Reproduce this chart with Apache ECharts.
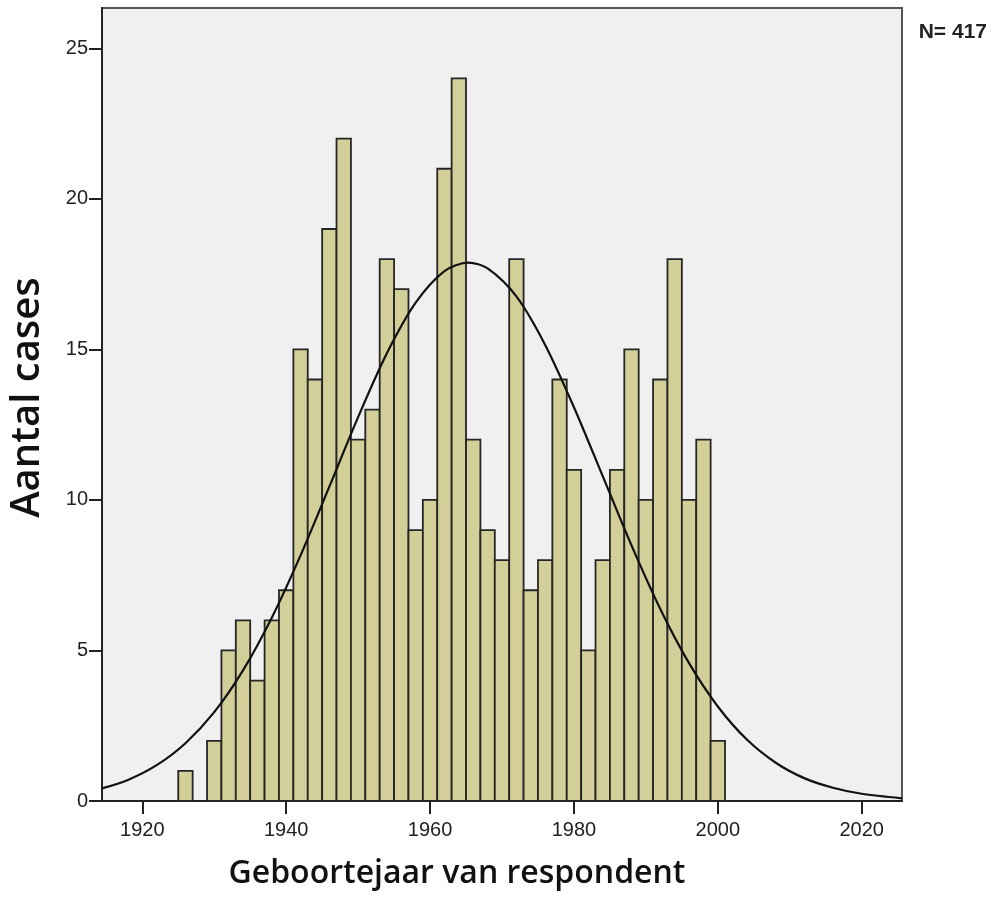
<!DOCTYPE html>
<html>
<head>
<meta charset="utf-8">
<script src="https://cdn.jsdelivr.net/npm/echarts@6/dist/echarts.min.js"></script>
<style>
  html, body { margin: 0; padding: 0; background: #fff; }
  #chart { width: 995px; height: 899px; }
</style>
</head>
<body>
<div id="chart"></div>
<script>
// histogram bins (start year, 2 year wide) and counts
const binStarts = [1925, 1929, 1931, 1933, 1935, 1937, 1939, 1941, 1943, 1945, 1947, 1949, 1951,
  1953, 1955, 1957, 1959, 1961, 1963, 1965, 1967, 1969, 1971, 1973, 1975, 1977, 1979, 1981,
  1983, 1985, 1987, 1989, 1991, 1993, 1995, 1997, 1999];
const binCounts = [1, 2, 5, 6, 4, 6, 7, 15, 14, 19, 22, 12, 13,
  18, 17, 9, 10, 21, 24, 12, 9, 8, 18, 7, 8, 14, 11, 5,
  8, 11, 15, 10, 14, 18, 10, 12, 2];
const binWidth = 2;

// normal curve
const curveYears = [1914.4, 1918, 1922, 1926, 1930, 1934, 1938, 1942, 1946, 1950, 1954, 1958, 1962,
  1965.3, 1968, 1972, 1976, 1980, 1984, 1988, 1992, 1996, 2000, 2004, 2008, 2012, 2016, 2020, 2025.6];
const curveValues = [0.42, 0.70, 1.19, 1.92, 2.95, 4.34, 6.09, 8.16, 10.44, 12.75, 14.87, 16.55, 17.60,
  17.88, 17.69, 16.76, 15.15, 13.08, 10.79, 8.49, 6.38, 4.58, 3.14, 2.05, 1.28, 0.76, 0.44, 0.24, 0.09];

const xTicks = [1920, 1940, 1960, 1980, 2000, 2020];
const yTicks = [0, 5, 10, 15, 20, 25];
const nLabel = 'N= 417';

const chart = echarts.init(document.getElementById('chart'));

chart.setOption({
  animation: false,
  title: {
    text: nLabel,
    right: 3,
    top: 17,
    textStyle: { fontFamily: 'Liberation Sans', fontSize: 21, fontWeight: 'bold', color: '#222' }
  },
  grid: {
    left: 101,
    right: 93,
    top: 8,
    bottom: 98,
    show: true,
    backgroundColor: '#f0f0f0',
    borderColor: '#555',
    borderWidth: 2
  },
  xAxis: {
    type: 'value',
    min: 1914.4,
    max: 2025.6,
    name: 'Geboortejaar van respondent',
    nameLocation: 'middle',
    nameGap: 57,
    nameTextStyle: {
      fontFamily: 'Open Sans',
      fontSize: 32,
      fontWeight: 600,
      color: '#111',
      padding: [0, 90, 0, 0]
    },
    splitLine: { show: false },
    axisLine: { show: true, lineStyle: { color: '#222', width: 2 } },
    axisTick: { show: true, length: 13, customValues: xTicks, lineStyle: { color: '#222', width: 2 } },
    axisLabel: {
      customValues: xTicks,
      formatter: v => String(v),
      margin: 19,
      fontFamily: 'Liberation Sans',
      fontSize: 20,
      color: '#222'
    }
  },
  yAxis: {
    type: 'value',
    min: 0,
    max: 26.34,
    name: 'Aantal cases',
    nameLocation: 'middle',
    nameGap: 54,
    nameTextStyle: {
      fontFamily: 'Open Sans',
      fontSize: 40,
      fontWeight: 600,
      color: '#111',
      padding: [0, 0, 0, 14]
    },
    splitLine: { show: false },
    axisLine: { show: true, lineStyle: { color: '#222', width: 2 } },
    axisTick: { show: true, length: 13, customValues: yTicks, lineStyle: { color: '#222', width: 2 } },
    axisLabel: {
      customValues: yTicks,
      margin: 14,
      fontFamily: 'Liberation Sans',
      fontSize: 20,
      color: '#222'
    }
  },
  series: [
    {
      type: 'custom',
      data: binStarts.map((s, i) => [s, s + binWidth, binCounts[i]]),
      encode: { x: [0, 1], y: 2 },
      renderItem: function (params, api) {
        const p0 = api.coord([api.value(0), api.value(2)]);
        const p1 = api.coord([api.value(1), 0]);
        return {
          type: 'rect',
          shape: { x: p0[0], y: p0[1], width: p1[0] - p0[0], height: p1[1] - p0[1] },
          style: { fill: '#d3cf98', stroke: '#262626', lineWidth: 1.8 }
        };
      },
      z: 2
    },
    {
      type: 'line',
      data: curveYears.map((y, i) => [y, curveValues[i]]),
      smooth: 0.3,
      showSymbol: false,
      symbol: 'none',
      clip: true,
      lineStyle: { color: '#111', width: 2.2 },
      z: 3
    }
  ]
});
</script>
</body>
</html>
